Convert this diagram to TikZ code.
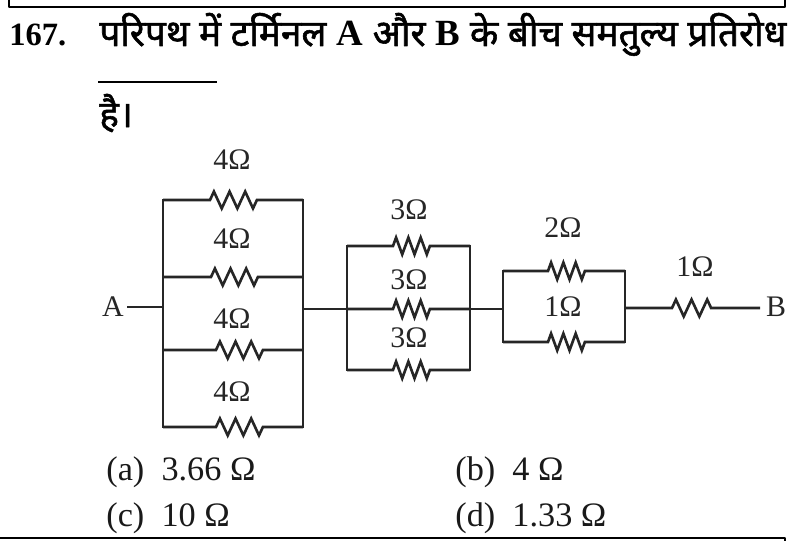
\documentclass[tikz,border=0pt]{standalone}
\usepackage{fontspec}
\setmainfont{Liberation Serif}
\newfontfamily\hindifont[Script=Devanagari,FakeBold=1.5]{Noto Sans}
\usetikzlibrary{decorations.pathmorphing}
\tikzset{
  wire/.style={line width=1.5pt,color=black!85,line join=miter},
  res/.style={decoration={zigzag,segment length=#1,amplitude=4.8pt}},
  val/.style={font=\fontsize{17pt}{19pt}\selectfont,color=black!85,inner sep=0pt},
  opt/.style={font=\fontsize{19.5pt}{21pt}\selectfont,color=black!90,anchor=base west,inner sep=0pt},
  head/.style={font=\fontsize{18.5pt}{21pt}\selectfont\bfseries,anchor=base west,inner sep=0pt},
  hindi/.style={font=\fontsize{21pt}{23pt}\selectfont\hindifont,anchor=base west,inner sep=0pt}
}
\begin{document}
\begin{tikzpicture}[x=0.02cm,y=-0.02cm,line join=round]
	\useasboundingbox (0,0) rectangle (792,541);
	% frame lines
	\coordinate (ftl) at (9,0); \coordinate (ftla) at (9,7);
	\coordinate (ftra) at (785,7); \coordinate (ftr) at (785,0);
	\coordinate (fbl) at (0,538); \coordinate (fbr) at (785,538);
	\coordinate (fbu) at (785,541);
	\draw[line width=1.2pt] (ftl)--(ftla)--(ftra)--(ftr);
	\draw[line width=1.2pt] (fbl)--(fbr)--(fbu);
	% question
	\node[head] (qno) at (9,46) {167.};
	\node[hindi] (qtext) at (99,46) {परिपथ में टर्मिनल \textbf{\rmfamily A} और \textbf{\rmfamily B} के बीच समतुल्य प्रतिरोध};
	\coordinate (blanka) at (98,82); \coordinate (blankb) at (217,82);
	\draw[line width=1.2pt] (blanka)--(blankb);
	\node[hindi] (qend) at (99,127) {है।};
	% first block
	\coordinate (A1) at (163,307); \coordinate (A2) at (303,309);
	\foreach \i/\yy/\xa in {1/200/210,2/277/211,3/350/216,4/427/216}{
		\coordinate (La\i) at (163,\yy);
		\coordinate (Ra\i) at (303,\yy);
		\draw[wire] (La\i)--(\xa,\yy) decorate[res=8.9pt]{--(\xa+47,\yy)}--(Ra\i);
	}
	\draw[wire,line cap=rect] (La1)--(La4);
	\draw[wire,line cap=rect] (Ra1)--(Ra4);
	% second block
	\coordinate (B1) at (347,309); \coordinate (B2) at (470,309);
	\foreach \i/\yy in {1/246,2/309,3/370}{
		\coordinate (Lb\i) at (347,\yy);
		\coordinate (Rb\i) at (470,\yy);
		\draw[wire] (Lb\i)--(393,\yy) decorate[res=7pt]{--(430,\yy)}--(Rb\i);
	}
	\draw[wire,line cap=rect] (Lb1)--(Lb3);
	\draw[wire,line cap=rect] (Rb1)--(Rb3);
	% third block
	\coordinate (C1) at (503,309); \coordinate (C2) at (625,308);
	\foreach \i/\yy in {1/271,2/342}{
		\coordinate (Lc\i) at (503,\yy);
		\coordinate (Rc\i) at (625,\yy);
		\draw[wire] (Lc\i)--(548,\yy) decorate[res=7pt]{--(585,\yy)}--(Rc\i);
	}
	\draw[wire,line cap=rect] (Lc1)--(Lc2);
	\draw[wire,line cap=rect] (Rc1)--(Rc2);
	% joining wires
	\node[val] (A) at (113,307) {A};
	\node[val] (B) at (776,307) {B};
	\coordinate (Aend) at (127,307);
	\draw[wire] (Aend)--(A1);
	\draw[wire] (A2)--(B1);
	\draw[wire] (B2)--(C1);
	\coordinate (Bend) at (760,308);
	\draw[wire] (C2)--(672,308) decorate[res=8.9pt]{--(718,308)}--(Bend);
	% values
	\foreach \i/\xx/\yy/\t in {1/232/160/4,2/232/239/4,3/232/319/4,4/232/392/4,5/409/210/3,6/409/280/3,7/409/338/3,8/563/228/2,9/563/307/1,10/695/267/1}{
		\node[val] (v\i) at (\xx,\yy) {\t Ω};
	}
	% options
	\node[opt] (opta) at (106,480) {(a)\ \ 3.66 Ω};
	\node[opt] (optb) at (455,480) {(b)\ \ 4 Ω};
	\node[opt] (optc) at (106,526) {(c)\ \ 10 Ω};
	\node[opt] (optd) at (455,526) {(d)\ \ 1.33 Ω};
\end{tikzpicture}
\end{document}
